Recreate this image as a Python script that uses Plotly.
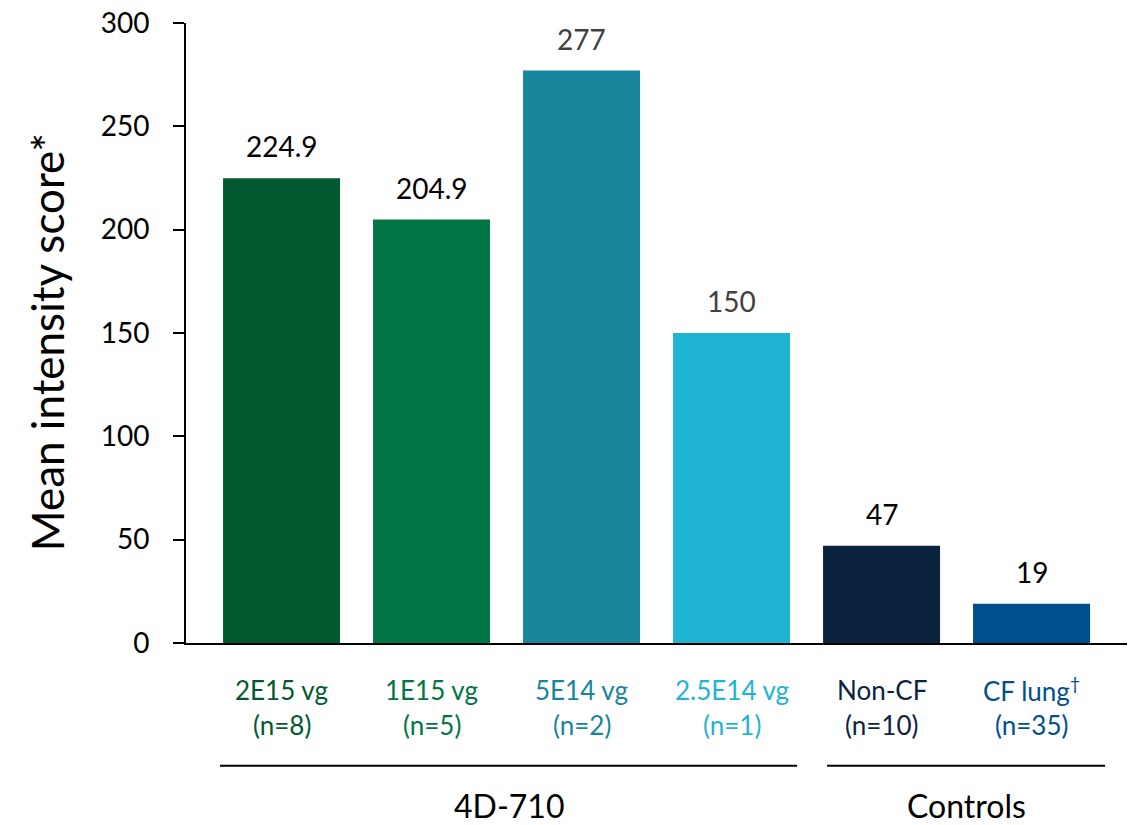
import plotly.graph_objects as go

categories = ["2E15 vg", "1E15 vg", "5E14 vg", "2.5E14 vg", "Non-CF", "CF lung<sup>†</sup>"]
n_labels = ["(n=8)", "(n=5)", "(n=2)", "(n=1)", "(n=10)", "(n=35)"]
values = [224.9, 204.9, 277, 150, 47, 19]
value_text = ["224.9", "204.9", "277", "150", "47", "19"]
bar_colors = ["#03592F", "#027545", "#17869C", "#1FB4D1", "#0C2340", "#004F8D"]
label_colors = ["#03592F", "#027545", "#17869C", "#1FB4D1", "#0C2340", "#004F8D"]
value_colors = ["#000000", "#000000", "#404040", "#404040", "#000000", "#000000"]
groups = ["4D-710", "Controls"]
group_members = [[0, 1, 2, 3], [4, 5]]
group_pad = [(-0.41, 0.437), (-0.363, 0.49)]
y_ticks = [0, 50, 100, 150, 200, 250, 300]

FONT = "Lato, 'Open Sans', sans-serif"
x = list(range(len(categories)))

fig = go.Figure()
fig.add_trace(go.Bar(
    x=x, y=values, marker=dict(color=bar_colors, line=dict(width=0)),
    width=0.78, hoverinfo="skip", showlegend=False,
))

for i, (v, t, c) in enumerate(zip(values, value_text, value_colors)):
    fig.add_annotation(x=i, y=v, text=t, showarrow=False, yanchor="bottom",
                       yshift=13, font=dict(family=FONT, size=28, color=c))

# category labels (two lines)
for i, (a, b, c) in enumerate(zip(categories, n_labels, label_colors)):
    fig.add_annotation(x=i, xref="x", yref="paper", y=-0.0758, text=a, showarrow=False,
                       yanchor="middle", font=dict(family=FONT, size=26, color=c))
    fig.add_annotation(x=i, xref="x", yref="paper", y=-0.132, text=b, showarrow=False,
                       yanchor="middle", font=dict(family=FONT, size=26, color=c))

# group lines and labels
for g, members, (p0, p1) in zip(groups, group_members, group_pad):
    x0 = members[0] + p0
    x1 = members[-1] + p1
    fig.add_shape(type="line", xref="x", yref="paper", x0=x0, x1=x1, y0=-0.198, y1=-0.198,
                  line=dict(color="black", width=2))
    fig.add_annotation(xref="x", yref="paper", x=(x0 + x1) / 2, y=-0.262, yanchor="middle",
                       text=g, showarrow=False, font=dict(family=FONT, size=32, color="black"))

# y-axis title
fig.add_annotation(xref="paper", yref="paper", x=-0.1476, y=0.485, text="Mean intensity score*",
                   textangle=-90, showarrow=False, xanchor="center", yanchor="middle",
                   font=dict(family=FONT, size=44, color="black"))

# page body has an 8px margin, so the figure is 8px smaller and offset by it
fig.update_layout(
    width=1127, height=817,
    margin=dict(l=178, r=7, t=15, b=182, autoexpand=False),
    plot_bgcolor="white", paper_bgcolor="white",
    font=dict(family=FONT, color="black"),
    xaxis=dict(
        range=[-0.637, 5.643], tickmode="array", tickvals=x, showticklabels=False,
        showline=True, linecolor="black", linewidth=2,
        ticks="", showgrid=False, zeroline=False, automargin=False,
    ),
    yaxis=dict(
        range=[0, 300], tickmode="array", tickvals=y_ticks,
        tickfont=dict(family=FONT, size=28, color="black"), showline=True, linecolor="black",
        linewidth=2, ticks="outside", ticklen=11, tickwidth=1.5, tickcolor="black",
        ticklabelstandoff=18, ticklabeloverflow="allow", showgrid=False, zeroline=False,
        automargin=False,
    ),
)

fig.write_html("out.html")
